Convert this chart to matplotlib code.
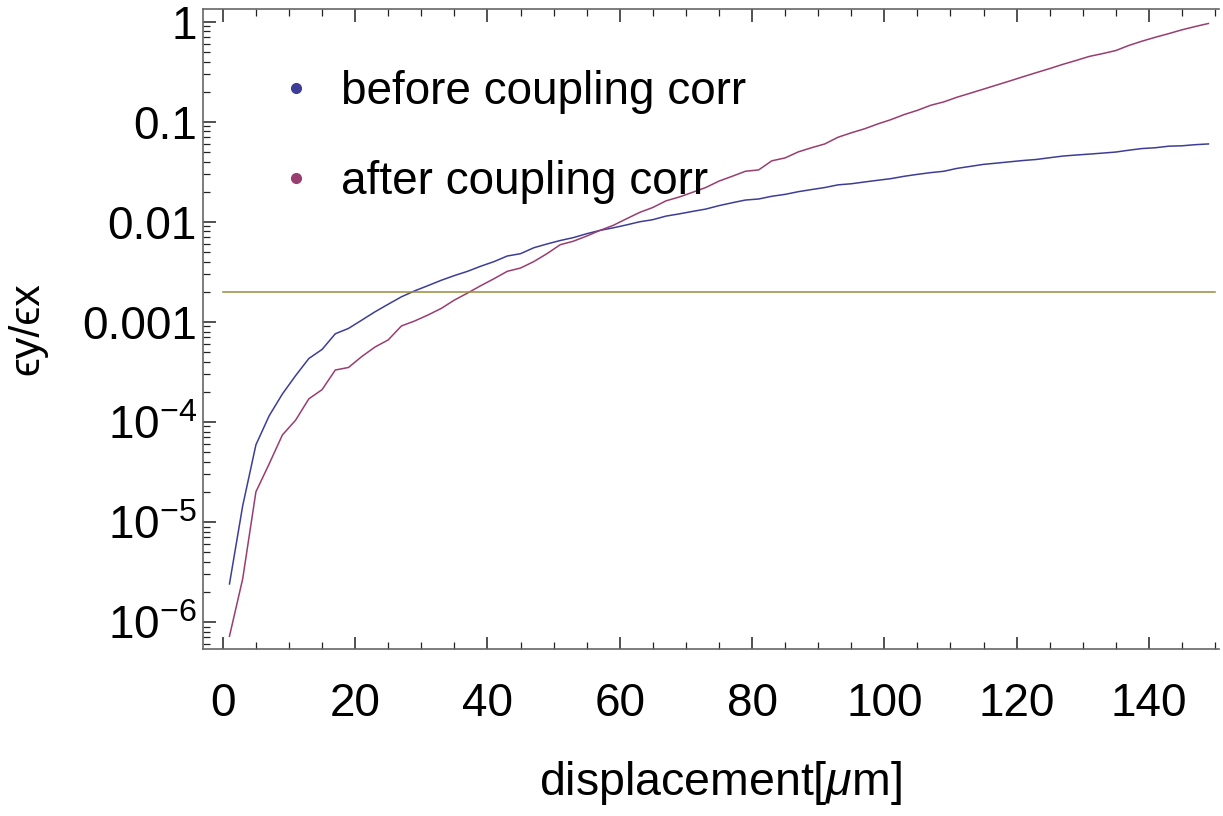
import matplotlib
matplotlib.use('Agg')
import matplotlib.pyplot as plt
from matplotlib.lines import Line2D
from matplotlib.ticker import FixedLocator, LogLocator, NullFormatter, MultipleLocator
import numpy as np

plt.rcParams['font.family'] = ['Liberation Sans', 'DejaVu Sans']
plt.rcParams['mathtext.fontset'] = 'custom'
plt.rcParams['mathtext.rm'] = 'Liberation Sans'
plt.rcParams['mathtext.it'] = 'Liberation Sans:italic'

# displacement grid (um)
displacement = [1, 3, 5, 7, 9, 11, 13, 15, 17, 19, 21, 23, 25, 27, 29, 31, 33, 35, 37, 39,
                41, 43, 45, 47, 49, 51, 53, 55, 57, 59, 61, 63, 65, 67, 69, 71, 73, 75, 77, 79,
                81, 83, 85, 87, 89, 91, 93, 95, 97, 99, 101, 103, 105, 107, 109, 111, 113, 115,
                117, 119, 121, 123, 125, 127, 129, 131, 133, 135, 137, 139, 141, 143, 145, 147, 149]

# emittance ratio before coupling correction
before_corr = [2.4e-6, 1.45e-5, 5.9e-5, 1.15e-4, 1.9e-4, 2.9e-4, 4.3e-4, 5.3e-4, 7.6e-4, 8.6e-4,
               1.04e-3, 1.26e-3, 1.5e-3, 1.78e-3, 2.04e-3, 2.3e-3, 2.6e-3, 2.9e-3, 3.2e-3, 3.6e-3,
               4.0e-3, 4.55e-3, 4.8e-3, 5.5e-3, 6.0e-3, 6.5e-3, 6.95e-3, 7.6e-3, 8.2e-3, 8.7e-3,
               9.3e-3, 1.0e-2, 1.05e-2, 1.14e-2, 1.2e-2, 1.27e-2, 1.34e-2, 1.45e-2, 1.55e-2, 1.65e-2,
               1.69e-2, 1.8e-2, 1.88e-2, 2.0e-2, 2.1e-2, 2.2e-2, 2.34e-2, 2.4e-2, 2.5e-2, 2.6e-2,
               2.7e-2, 2.85e-2, 2.98e-2, 3.1e-2, 3.2e-2, 3.42e-2, 3.58e-2, 3.75e-2, 3.86e-2, 3.98e-2,
               4.1e-2, 4.2e-2, 4.37e-2, 4.54e-2, 4.65e-2, 4.75e-2, 4.86e-2, 4.98e-2, 5.2e-2, 5.4e-2,
               5.5e-2, 5.7e-2, 5.75e-2, 5.9e-2, 6.0e-2]

# emittance ratio after coupling correction
after_corr = [7.2e-7, 2.7e-6, 2.0e-5, 3.8e-5, 7.4e-5, 1.04e-4, 1.7e-4, 2.1e-4, 3.3e-4, 3.5e-4,
              4.5e-4, 5.6e-4, 6.6e-4, 9.1e-4, 1.02e-3, 1.17e-3, 1.36e-3, 1.65e-3, 1.94e-3, 2.3e-3,
              2.7e-3, 3.2e-3, 3.45e-3, 4.0e-3, 4.8e-3, 5.9e-3, 6.4e-3, 7.2e-3, 8.2e-3, 9.2e-3,
              1.07e-2, 1.24e-2, 1.39e-2, 1.62e-2, 1.77e-2, 1.97e-2, 2.2e-2, 2.55e-2, 2.85e-2, 3.2e-2,
              3.3e-2, 4.07e-2, 4.35e-2, 5.0e-2, 5.5e-2, 6.0e-2, 7.0e-2, 7.75e-2, 8.5e-2, 9.5e-2,
              1.05e-1, 1.18e-1, 1.3e-1, 1.46e-1, 1.58e-1, 1.76e-1, 1.93e-1, 2.12e-1, 2.33e-1, 2.56e-1,
              2.82e-1, 3.1e-1, 3.4e-1, 3.75e-1, 4.1e-1, 4.5e-1, 4.8e-1, 5.15e-1, 5.8e-1, 6.4e-1,
              7.0e-1, 7.6e-1, 8.3e-1, 8.95e-1, 9.6e-1]

threshold = 0.002
threshold_span = [0, 150]

y_ticks = [1e-6, 1e-5, 1e-4, 1e-3, 1e-2, 1e-1, 1]
y_ticklabels = [r'$\mathregular{10^{-6}}$', r'$\mathregular{10^{-5}}$', r'$\mathregular{10^{-4}}$',
                '0.001', '0.01', '0.1', '1']
x_ticks = [0, 20, 40, 60, 80, 100, 120, 140]

c_before = (0.24, 0.24, 0.6)
c_after = (0.6, 0.24, 0.443)
c_thresh = (0.6, 0.547, 0.24)

fig = plt.figure(figsize=(12.23, 8.16), dpi=100)
ax = fig.add_axes([203 / 1223, 1 - 649 / 816, (1219 - 203) / 1223, (649 - 9) / 816])

ax.plot(displacement, before_corr, color=c_before, lw=1.1)
ax.plot(displacement, after_corr, color=c_after, lw=1.1)
ax.plot(threshold_span, [threshold, threshold], color=c_thresh, lw=1.1)

ax.set_yscale('log')
ax.set_xlim(-3.0, 150.6)
ax.set_ylim(10 ** -6.27, 10 ** 0.127)

ax.yaxis.set_major_locator(FixedLocator(y_ticks))
ax.set_yticklabels(y_ticklabels)
ax.yaxis.set_minor_locator(LogLocator(base=10, subs=np.arange(2, 10), numticks=20))
ax.yaxis.set_minor_formatter(NullFormatter())
ax.xaxis.set_major_locator(FixedLocator(x_ticks))
ax.xaxis.set_minor_locator(MultipleLocator(5))

for s in ax.spines.values():
    s.set_color('#666666')
    s.set_linewidth(1.2)
ax.spines['right'].set_visible(False)

ax.tick_params(which='both', direction='in', top=True, right=False, color='#222222')
ax.tick_params(which='major', length=9, width=1.1)
ax.tick_params(which='minor', length=5, width=0.9)
ax.tick_params(axis='x', which='major', labelsize=33, pad=24)
ax.tick_params(axis='y', which='major', labelsize=33, pad=4.5)

ax.set_xlabel(r'displacement[$\mu$m]', fontsize=33.5)
ax.xaxis.set_label_coords((720 - 203) / 1016, -0.172)
ax.set_ylabel('ϵy/ϵx', fontsize=31, labelpad=24.5)

handles = [Line2D([], [], ls='none', marker='o', ms=7, color=c_before),
           Line2D([], [], ls='none', marker='o', ms=7, color=c_after)]
ax.legend(handles, ['before coupling corr', 'after coupling corr'], loc='upper left',
          bbox_to_anchor=(0.07, 0.905), frameon=False, fontsize=33, handlelength=0.95,
          handletextpad=0.5, labelspacing=1.0, borderpad=0, borderaxespad=0)

fig.savefig('out.png', dpi=100)
